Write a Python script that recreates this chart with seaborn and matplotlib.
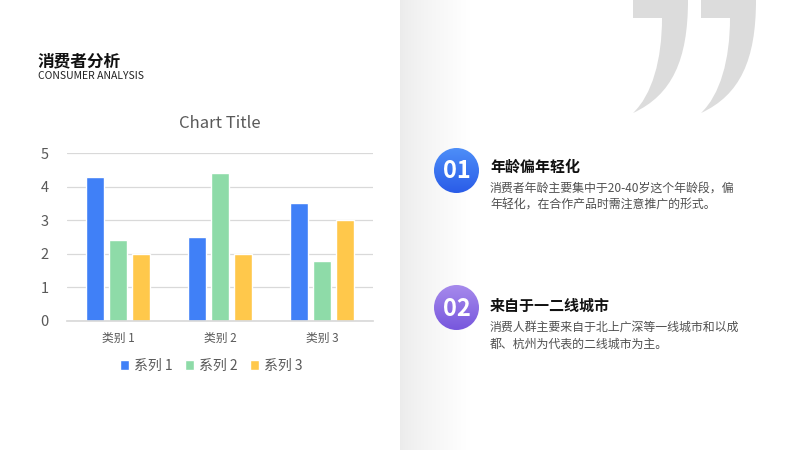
import numpy as np, pandas as pd
import matplotlib as mpl, matplotlib.pyplot as plt
import seaborn as sns
from matplotlib.patches import Circle, PathPatch
from matplotlib.path import Path
from matplotlib.colors import LinearSegmentedColormap

sns.set_theme(style="white")
plt.rcParams["font.family"] = ["Noto Sans CJK SC", "DejaVu Sans"]

# data
categories = ["类别 1", "类别 2", "类别 3"]
series = ["系列 1", "系列 2", "系列 3"]
s1 = [4.3, 2.5, 3.5]
s2 = [2.4, 4.4, 1.8]
s3 = [2.0, 2.0, 3.0]
yticks = [0, 1, 2, 3, 4, 5]
colors = ["#4080F7", "#8EDBA8", "#FFC84B"]

df = pd.DataFrame({"cat": categories * 3,
                   "series": np.repeat(series, 3),
                   "val": s1 + s2 + s3})

fig = plt.figure(figsize=(8, 4.5), dpi=100)

# background layer in pixel coordinates
bg = fig.add_axes([0, 0, 1, 1], zorder=0)
bg.set_xlim(0, 800); bg.set_ylim(450, 0); bg.axis("off")

# right panel gradient
xs = np.linspace(0, 1, 400)
g = 0.925 + 0.075 * np.clip(xs * 400 / 70, 0, 1) ** 0.8
grad = np.repeat(np.dstack([g, g, g]), 2, axis=0)
bg.imshow(grad, extent=[400, 800, 450, 0], aspect="auto", zorder=0)

# quote marks
def quote(dx):
    verts = [(633 + dx, 0), (688 + dx, 0),
             (688 + dx, 60), (672 + dx, 95), (633 + dx, 113),
             (652 + dx, 95), (662 + dx, 60), (662 + dx, 18),
             (633 + dx, 18), (633 + dx, 0)]
    codes = [Path.MOVETO, Path.LINETO,
             Path.CURVE4, Path.CURVE4, Path.CURVE4,
             Path.CURVE4, Path.CURVE4, Path.CURVE4,
             Path.LINETO, Path.CLOSEPOLY]
    bg.add_patch(PathPatch(Path(verts, codes), fc="#DCDCDC", ec="none", zorder=1))
quote(0); quote(68)

# numbered circles
def badge(cx, cy, top, bot, label):
    r = 22.5
    cm = LinearSegmentedColormap.from_list("b", [top, bot])
    circ = Circle((cx, cy), r, transform=bg.transData, fc="none", ec="none")
    bg.add_patch(circ)
    im = bg.imshow(np.linspace(0, 1, 100)[:, None], cmap=cm, aspect="auto",
                   extent=[cx - r, cx + r, cy + r, cy - r], zorder=2)
    im.set_clip_path(circ)
    bg.text(cx, cy + 1, label, color="white", fontsize=17, fontweight="bold",
            ha="center", va="center", zorder=3)
badge(456.5, 170.5, "#4D8EF8", "#2A5CE8", "01")
badge(456.5, 307.5, "#A68AEC", "#7757DD", "02")

bg.text(38, 61, "消费者分析", fontsize=12, fontweight="bold", color="#111111", va="center")
bg.text(38, 76, "CONSUMER ANALYSIS", fontsize=7.5, color="#222222", va="center")

bg.text(490, 167, "年龄偏年轻化", fontsize=10.8, fontweight="bold", color="#111111", va="center")
bg.text(490, 188, "消费者年龄主要集中于20-40岁这个年龄段，偏", fontsize=8.6, color="#505050", va="center")
bg.text(490, 205, "年轻化，在合作产品时需注意推广的形式。", fontsize=8.6, color="#505050", va="center")
bg.text(490, 306, "来自于一二线城市", fontsize=10.8, fontweight="bold", color="#111111", va="center")
bg.text(490, 327, "消费人群主要来自于北上广深等一线城市和以成", fontsize=8.6, color="#505050", va="center")
bg.text(490, 344, "都、杭州为代表的二线城市为主。", fontsize=8.6, color="#505050", va="center")

# chart
ax = fig.add_axes([67 / 800, 1 - 321 / 450, 306 / 800, 168 / 450], zorder=2)
ax.patch.set_alpha(0)
sns.barplot(data=df, x="cat", y="val", hue="series", palette=colors,
            width=0.68, gap=0.22, saturation=1, ax=ax)
ax.set_ylim(0, 5); ax.set_xlim(-0.5, 2.5)
ax.set_yticks(yticks)
ax.yaxis.grid(True, color="#D9D9D9", lw=0.9); ax.set_axisbelow(True)
for s in ["top", "right", "left"]:
    ax.spines[s].set_visible(False)
ax.spines["bottom"].set_color("#D9D9D9")
ax.tick_params(axis="y", length=0, pad=13, labelsize=10.5, labelcolor="#595959")
ax.tick_params(axis="x", length=0, pad=8, labelsize=8.5, labelcolor="#595959")
ax.set_xlabel(None); ax.set_ylabel(None)
ax.set_title("Chart Title", fontsize=12, color="#595959", pad=18)
h, l = ax.get_legend_handles_labels()
ax.get_legend().remove()
fig.legend(h, l, loc="center", bbox_to_anchor=(211 / 800, 1 - 366 / 450), ncol=3,
           frameon=False, fontsize=10, handlelength=0.65, handleheight=0.65,
           handletextpad=0.35, columnspacing=0.9, labelcolor="#595959")

fig.savefig("out.png", dpi=100)
